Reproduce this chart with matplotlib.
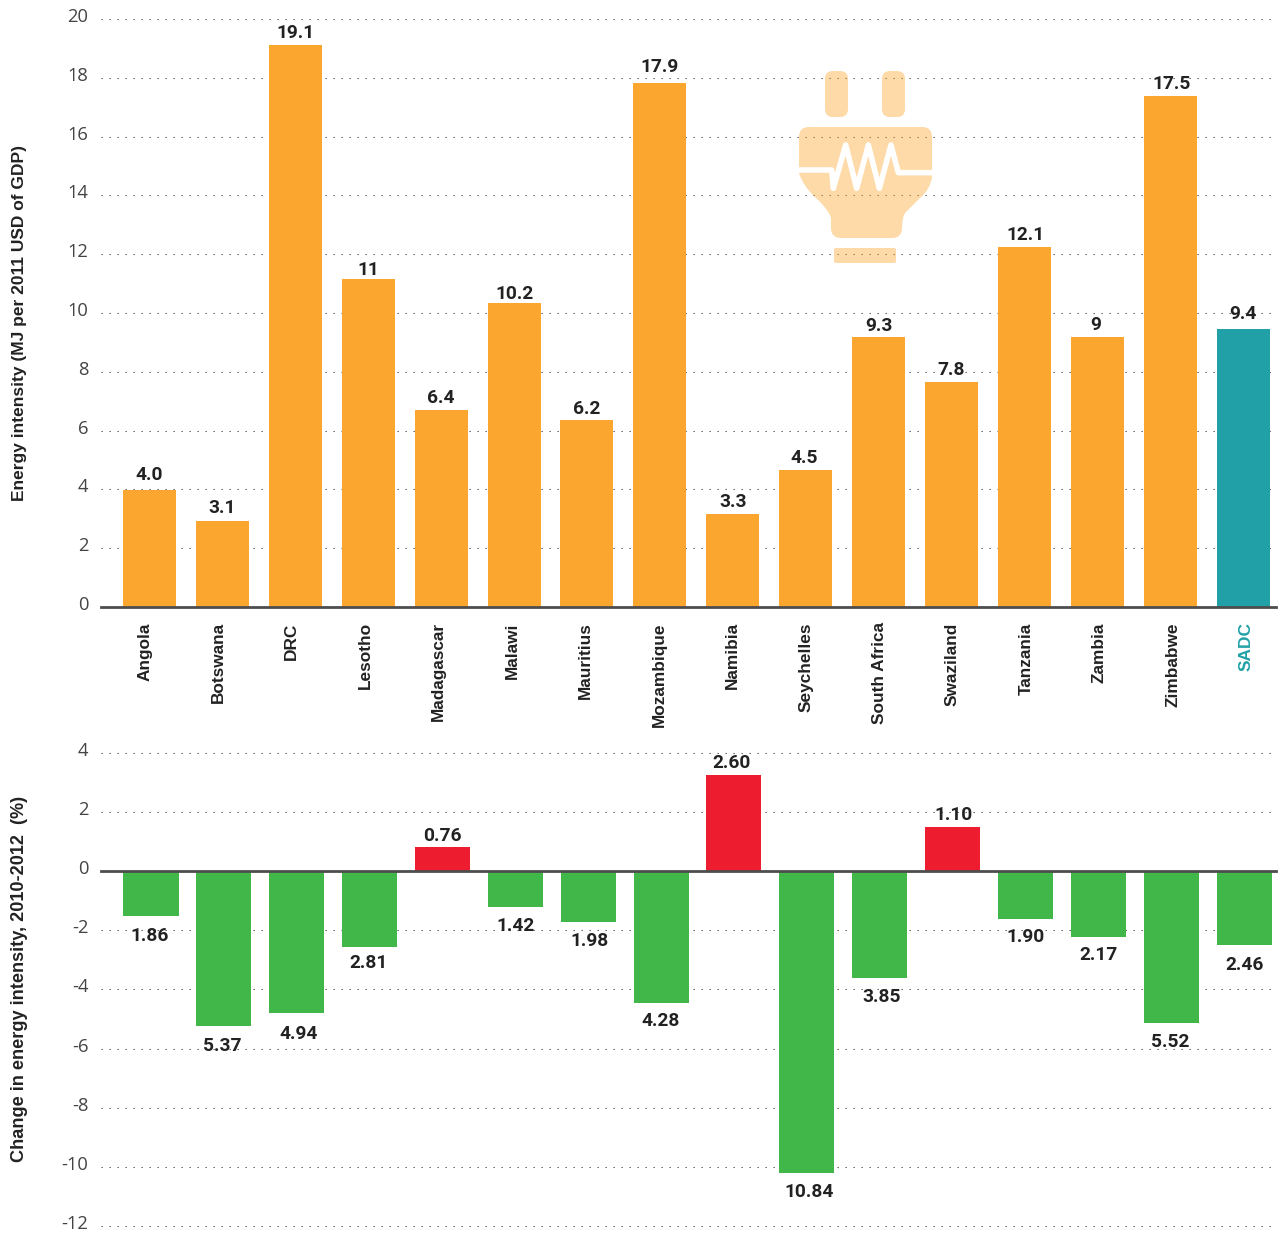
import matplotlib
matplotlib.use("Agg")
import matplotlib.pyplot as plt
from matplotlib.path import Path
from matplotlib.patches import PathPatch, FancyBboxPatch
from matplotlib.transforms import ScaledTranslation

W, H = 1280, 1234
countries = ["Angola", "Botswana", "DRC", "Lesotho", "Madagascar", "Malawi", "Mauritius", "Mozambique",
             "Namibia", "Seychelles", "South Africa", "Swaziland", "Tanzania", "Zambia", "Zimbabwe", "SADC"]
intensity_bars = [3.98, 2.93, 19.12, 11.16, 6.70, 10.34, 6.36, 17.82, 3.16, 4.66, 9.18, 7.65, 12.24, 9.18, 17.38, 9.46]
intensity_labels = ["4.0", "3.1", "19.1", "11", "6.4", "10.2", "6.2", "17.9", "3.3", "4.5", "9.3", "7.8", "12.1", "9", "17.5", "9.4"]
change_bars = [-1.52, -5.24, -4.80, -2.57, 0.81, -1.22, -1.72, -4.46, 3.25, -10.21, -3.62, 1.49, -1.62, -2.23, -5.14, -2.50]
change_labels = ["1.86", "5.37", "4.94", "2.81", "0.76", "1.42", "1.98", "4.28", "2.60", "10.84", "3.85", "1.10", "1.90", "2.17", "5.52", "2.46"]

# label placement in pixels relative to the bar end
top_dy = [15, 13, 12, 9, 12, 9, 11, 16, 12, 12, 11, 12, 12, 12, 12, 15]
top_dx = [0, 0, 0, 0, 0, 1, 0, 0, 0, -2, 0, 0, 1, -2, 1, 0]
low_dy = [-20, -20, -21, -16, 11, -19, -19, -18, 12, -19, -19, 12, -18, -18, -19, -20]
low_dx = [-1, -2, 2, -1, 0, 0, 1, 0, -2, 2, 2, 1, 0, 0, -1, 0]

ORANGE, TEAL, GREEN, RED = "#FBA72F", "#21A1A7", "#41B649", "#ED1C2E"
INK, TICK, AXIS = "#222222", "#444444", "#4D4D4D"
NARROW = ["Liberation Sans", "DejaVu Sans"]
PX = 72 / 100


def place(left, top, right, bottom):
    return [left / W, 1 - bottom / H, (right - left) / W, (bottom - top) / H]


fig = plt.figure(figsize=(W / 100, H / 100), dpi=100, facecolor="white")
ax1 = fig.add_axes(place(101, 19, 1276, 607))
ax2 = fig.add_axes(place(101, 752.7, 1276, 1226))


def style(ax, ticks):
    for s in ax.spines.values():
        s.set_visible(False)
    ax.set_yticks(ticks)
    ax.set_yticklabels([str(t) for t in ticks], family="Open Sans", fontsize=13.2, color=TICK)
    ax.tick_params(axis="y", length=0, pad=9)
    for lab in ax.get_yticklabels():
        lab.set_transform(lab.get_transform() + ScaledTranslation(0, 4 / 100, fig.dpi_scale_trans))
    ax.set_axisbelow(True)
    ax.grid(axis="y", color="#555555", linewidth=0.8, linestyle=(0, (1.2, 6)))
    ax.grid(axis="x", visible=False)
    for g in ax.get_ygridlines():
        g.set_clip_on(False)
    ax.axhline(0, color=AXIS, linewidth=2.0, zorder=5, clip_on=False)


xs = list(range(len(countries)))
ax1.set_xlim(-0.665, 15.45)
ax1.set_ylim(0, 20)
style(ax1, list(range(0, 21, 2)))
ax1.bar(xs, intensity_bars, width=0.727, color=[ORANGE] * 15 + [TEAL], zorder=3)
for x, v, t, dx, dy in zip(xs, intensity_bars, intensity_labels, top_dx, top_dy):
    ax1.annotate(t, (x, v), xytext=(dx * PX, dy * PX), textcoords="offset points", ha="center", va="center",
                 family="Roboto", fontweight="bold", fontsize=13.8, color=INK, zorder=6)
ax1.set_xticks(xs)
ax1.set_xticklabels(countries, rotation=90, ha="center", va="top", family=NARROW, fontweight="bold",
                    fontsize=12.4, color=INK)
ax1.tick_params(axis="x", length=0, pad=11)
for i, lab in enumerate(ax1.get_xticklabels()):
    lab.set_transform(lab.get_transform() + ScaledTranslation((-4.5 + 0.5 * i) / 100, 0, fig.dpi_scale_trans))
ax1.get_xticklabels()[-1].set_color(TEAL)

ax2.set_xlim(-0.686, 15.438)
ax2.set_ylim(-12, 4)
style(ax2, list(range(4, -13, -2)))
ax2.bar(xs, change_bars, width=0.755, color=[RED if v > 0 else GREEN for v in change_bars], zorder=3)
ax2.set_xticks([])
for x, v, t, dx, dy in zip(xs, change_bars, change_labels, low_dx, low_dy):
    ax2.annotate(t, (x, v), xytext=(dx * PX, dy * PX), textcoords="offset points", ha="center", va="center",
                 family="Roboto", fontweight="bold", fontsize=13.8, color=INK, zorder=6)

fig.text(19.5 / W, 1 - 323 / H, "Energy intensity (MJ per 2011 USD of GDP)", rotation=90, ha="center", va="center",
         family=NARROW, fontweight="bold", fontsize=12.5, color=INK)
fig.text(19.5 / W, 1 - 978.5 / H, "Change in energy intensity, 2010-2012  (%)", rotation=90, ha="center", va="center",
         family=NARROW, fontweight="bold", fontsize=13.1, color=INK)

# plug icon, in figure pixels; translucent so that the dotted grid shows through
ov = fig.add_axes([0, 0, 1, 1], facecolor="none")
ov.set_xlim(0, W)
ov.set_ylim(H, 0)
ov.axis("off")
ICON = ORANGE
ALPHA = 0.42
for left, top, w, h, r in [(825, 71, 23, 46, 8), (882, 71, 23, 46, 8), (834, 248, 62, 15, 2)]:
    ov.add_patch(FancyBboxPatch((left + r, top + r), w - 2 * r, h - 2 * r, boxstyle=f"round,pad={r},rounding_size={r}",
                                fc=ICON, ec="none", alpha=ALPHA, zorder=2))
M, L, Q, C = Path.MOVETO, Path.LINETO, Path.CURVE3, Path.CLOSEPOLY
verts = [(799, 137), (799, 127), (809, 127), (922, 127), (932, 127), (932, 137), (932, 177), (930, 190), (920, 198),
         (905, 213), (902, 218), (902, 228), (902, 238), (892, 238), (841, 238), (831, 238), (831, 228), (831, 218),
         (829, 210), (815, 197), (803, 186), (799, 173), (799, 137)]
codes = [M, Q, Q, L, Q, Q, L, Q, Q, L, Q, Q, Q, Q, L, Q, Q, L, Q, Q, Q, Q, C]
ov.add_patch(PathPatch(Path(verts, codes), fc=ICON, ec="none", alpha=ALPHA, zorder=2))
wire = [(55, 330), (155, 330), (160, 385), (197, 255), (230, 385), (265, 255), (298, 385), (333, 255), (355, 338), (459, 338)]
ov.plot([780 + a / 3 for a, b in wire], [60 + b / 3 for a, b in wire], color="white", lw=4,
        solid_joinstyle="round", solid_capstyle="butt", zorder=3)

fig.savefig("out.png", dpi=100, facecolor="white")
